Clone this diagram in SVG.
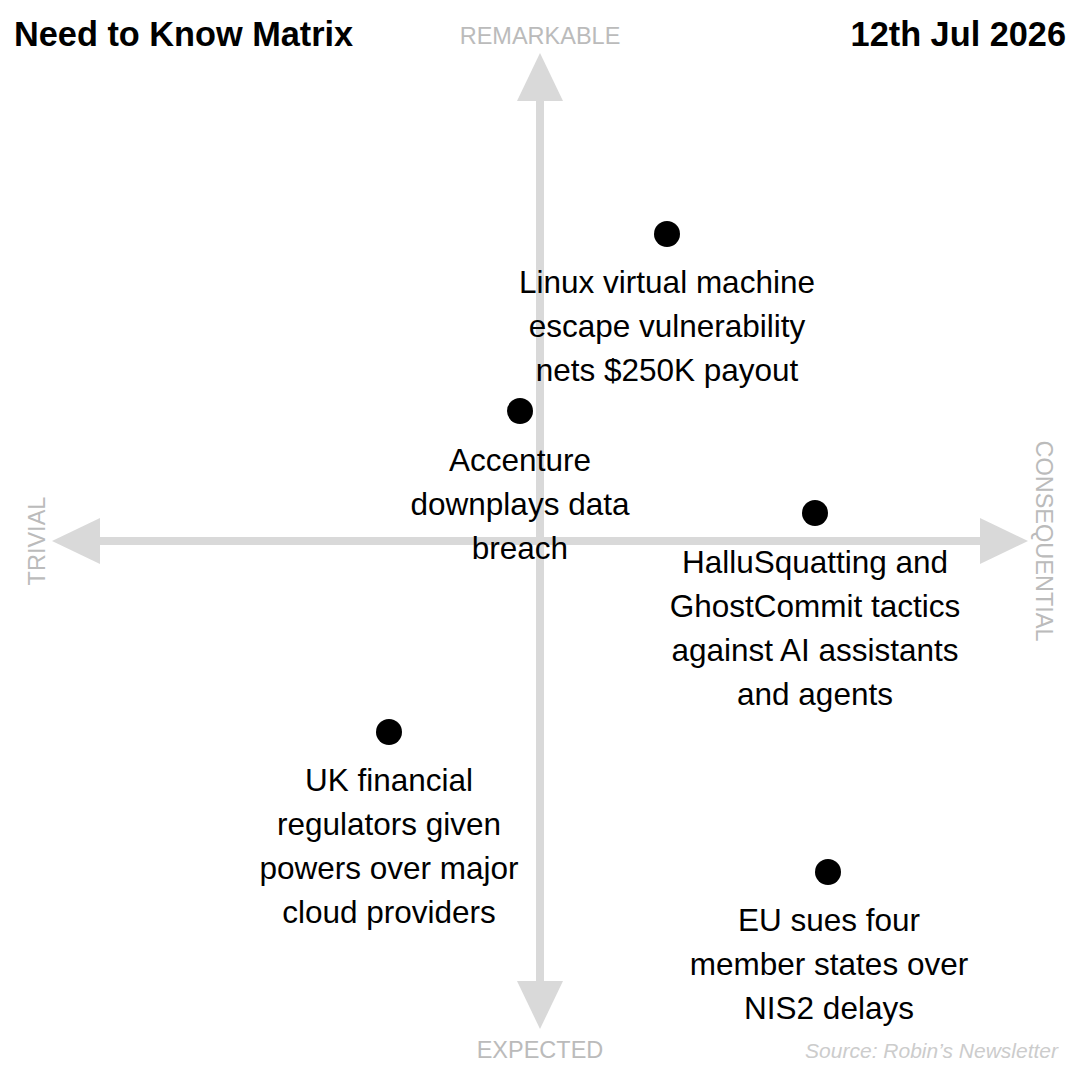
<svg xmlns="http://www.w3.org/2000/svg" width="1080" height="1080" viewBox="0 0 1080 1080">
<style>
text{font-family:"Liberation Sans",Arial,sans-serif}
.t{font-size:34.3px;font-weight:bold;fill:#000}
.ax{font-size:23.5px;fill:#bbb}
.lb{font-size:31.5px;fill:#000;text-anchor:middle}
.src{font-size:21px;font-style:italic;fill:#ccc;text-anchor:end}
.ln{stroke:#d9d9d9;stroke-width:8}
.ah{fill:#d9d9d9}
</style>
<rect width="1080" height="1080" fill="#fff"/>
<text class="t" x="14" y="46">Need to Know Matrix</text>
<text class="t" x="1066" y="46" text-anchor="end">12th Jul 2026</text>
<g id="axes">
<line class="ln" x1="540" y1="95" x2="540" y2="990"/>
<line class="ln" x1="95" y1="541" x2="985" y2="541"/>
<polygon class="ah" points="540,53 517,101 563,101"/>
<polygon class="ah" points="540,1029 517,981 563,981"/>
<polygon class="ah" points="52,541 100,518 100,564"/>
<polygon class="ah" points="1028,541 980,518 980,564"/>
</g>
<text class="ax" x="540" y="44" text-anchor="middle">REMARKABLE</text>
<text class="ax" x="540" y="1058" text-anchor="middle">EXPECTED</text>
<text class="ax" transform="translate(45,541) rotate(-90)" text-anchor="middle">TRIVIAL</text>
<text class="ax" transform="translate(1036,541) rotate(90)" text-anchor="middle">CONSEQUENTIAL</text>
<g id="n1"><circle cx="667" cy="234" r="13"/>
<text class="lb" x="667" y="293">Linux virtual machine</text><text class="lb" x="667" y="337">escape vulnerability</text><text class="lb" x="667" y="381">nets $250K payout</text></g>
<g id="n2"><circle cx="520" cy="411" r="13"/>
<text class="lb" x="520" y="471">Accenture</text><text class="lb" x="520" y="515">downplays data</text><text class="lb" x="520" y="559">breach</text></g>
<g id="n3"><circle cx="815" cy="513" r="13"/>
<text class="lb" x="815" y="573">HalluSquatting and</text><text class="lb" x="815" y="617">GhostCommit tactics</text><text class="lb" x="815" y="661">against AI assistants</text><text class="lb" x="815" y="705">and agents</text></g>
<g id="n4"><circle cx="389" cy="732" r="13"/>
<text class="lb" x="389" y="791">UK financial</text><text class="lb" x="389" y="835">regulators given</text><text class="lb" x="389" y="879">powers over major</text><text class="lb" x="389" y="923">cloud providers</text></g>
<g id="n5"><circle cx="828" cy="872" r="13"/>
<text class="lb" x="829" y="931">EU sues four</text><text class="lb" x="829" y="975">member states over</text><text class="lb" x="829" y="1019">NIS2 delays</text></g>
<text class="src" x="1058" y="1058">Source: Robin’s Newsletter</text>
</svg>
